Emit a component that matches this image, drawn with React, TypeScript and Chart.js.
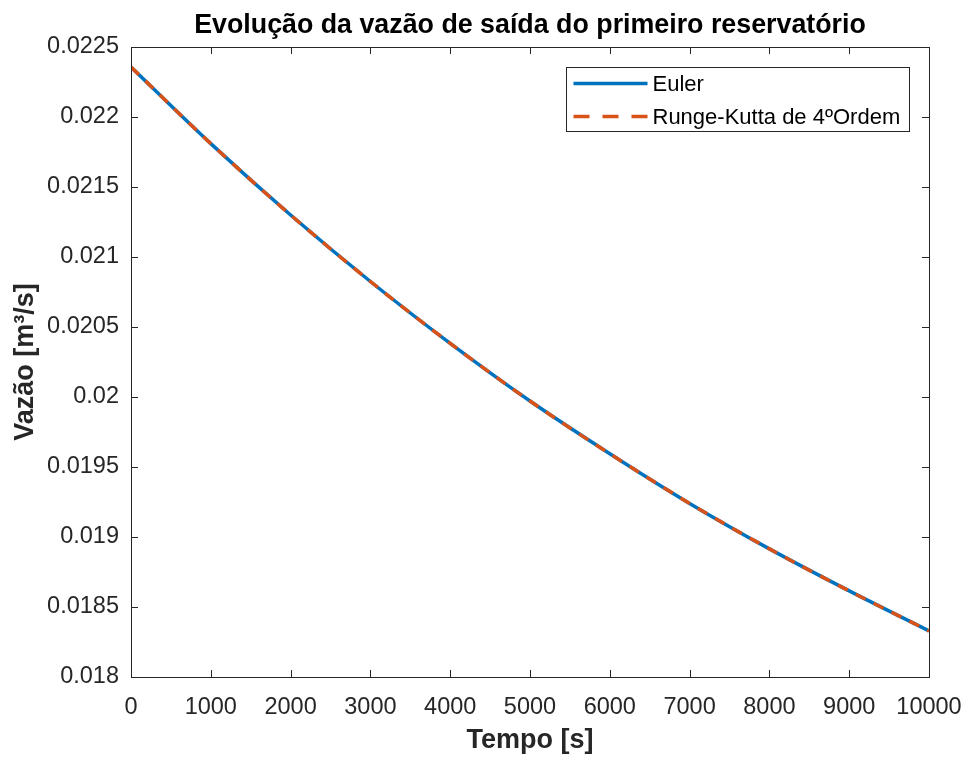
import React, { useEffect, useRef } from "react";
import { Chart, registerables } from "chart.js";

Chart.register(...registerables);

const FONT = '"Liberation Sans", Arial, Helvetica, sans-serif';
const AXIS_COLOR = "#262626";

const chartTitle = "Evolução da vazão de saída do primeiro reservatório";
const tempo = [0, 1000, 2000, 3000, 4000, 5000, 6000, 7000, 8000, 9000, 10000];
const vazaoEuler = [0.022357, 0.02181, 0.0213, 0.020825, 0.020383, 0.019971, 0.019595, 0.01924, 0.018915, 0.018615, 0.018329];
const vazaoRK4 = [0.022357, 0.02181, 0.0213, 0.020825, 0.020383, 0.019971, 0.019595, 0.01924, 0.018915, 0.018615, 0.018329];
const seriesLabels = ["Euler", "Runge-Kutta de 4ºOrdem"];
const seriesColors = ["#0072BD", "#D95319"];

const titlePlugin = {
  id: "centeredTitle",
  afterDraw(chart: any) {
    const { ctx, chartArea } = chart;
    ctx.save();
    ctx.font = `bold 26.8px ${FONT}`;
    ctx.fillStyle = "#000000";
    ctx.textAlign = "center";
    ctx.textBaseline = "alphabetic";
    ctx.fillText(chartTitle, (chartArea.left + chartArea.right) / 2, 33);
    ctx.restore();
  },
};

const boxAndTicks = {
  id: "boxAndTicks",
  afterDatasetsDraw(chart: any) {
    const { ctx, chartArea, scales } = chart;
    const { left, right, top, bottom } = chartArea;
    const x = scales.x;
    const y = scales.y;
    const tl = 7;
    ctx.save();
    ctx.strokeStyle = AXIS_COLOR;
    ctx.lineWidth = 1;
    ctx.beginPath();
    x.ticks.forEach((t: any) => {
      const px = Math.round(x.getPixelForValue(t.value)) + 0.5;
      ctx.moveTo(px, bottom);
      ctx.lineTo(px, bottom - tl);
      ctx.moveTo(px, top);
      ctx.lineTo(px, top + tl);
    });
    y.ticks.forEach((t: any) => {
      const py = Math.round(y.getPixelForValue(t.value)) + 0.5;
      ctx.moveTo(left, py);
      ctx.lineTo(left + tl, py);
      ctx.moveTo(right, py);
      ctx.lineTo(right - tl, py);
    });
    ctx.stroke();
    ctx.strokeRect(Math.round(left) + 0.5, Math.round(top) + 0.5, Math.round(right - left), Math.round(bottom - top));

    // legend
    ctx.font = `22px ${FONT}`;
    const datasets = chart.data.datasets;
    const textW = Math.max(...datasets.map((d: any) => ctx.measureText(d.label).width));
    const lineLen = 74;
    const boxW = Math.round(7 + lineLen + 5 + textW + 9);
    const boxH = 64;
    const bx = Math.round(right - 20 - boxW) + 0.5;
    const by = Math.round(top + 20) + 0.5;
    ctx.fillStyle = "#ffffff";
    ctx.fillRect(bx, by, boxW, boxH);
    ctx.strokeStyle = AXIS_COLOR;
    ctx.lineWidth = 1;
    ctx.strokeRect(bx, by, boxW, boxH);
    datasets.forEach((d: any, i: number) => {
      const ry = by + 16 + i * 33;
      ctx.save();
      ctx.strokeStyle = d.borderColor;
      ctx.lineWidth = 3.5;
      ctx.setLineDash(i === 1 ? [16, 13] : []);
      ctx.beginPath();
      ctx.moveTo(bx + 7, ry);
      ctx.lineTo(bx + 7 + lineLen, ry);
      ctx.stroke();
      ctx.restore();
      ctx.fillStyle = "#000000";
      ctx.textAlign = "left";
      ctx.textBaseline = "middle";
      ctx.fillText(d.label, bx + 7 + lineLen + 5, ry + 1);
    });
    ctx.restore();
  },
};

export default function App() {
  const ref = useRef<HTMLCanvasElement>(null);
  useEffect(() => {
    document.body.style.margin = "0";
    const canvas = ref.current!;
    const chart = new Chart(canvas, {
      type: "line",
      data: {
        datasets: [
          {
            label: seriesLabels[0],
            data: tempo.map((t, i) => ({ x: t, y: vazaoEuler[i] })),
            borderColor: seriesColors[0],
            borderWidth: 3.5,
            pointRadius: 0,
            cubicInterpolationMode: "monotone",
            fill: false,
            order: 1,
          },
          {
            label: seriesLabels[1],
            data: tempo.map((t, i) => ({ x: t, y: vazaoRK4[i] })),
            borderColor: seriesColors[1],
            borderWidth: 3.5,
            borderDash: [11, 9],
            pointRadius: 0,
            cubicInterpolationMode: "monotone",
            fill: false,
            order: 0,
          },
        ],
      },
      options: {
        responsive: false,
        animation: false,
        layout: { padding: { left: 0, right: 40, top: 47, bottom: 0 } },
        plugins: {
          legend: { display: false },
          tooltip: { enabled: false },
          title: { display: false },
        },
        scales: {
          x: {
            type: "linear",
            min: 0,
            max: 10000,
            grid: { display: false, drawTicks: false },
            border: { display: false },
            ticks: {
              stepSize: 1000,
              color: AXIS_COLOR,
              font: { family: FONT, size: 23.5 },
              padding: 16,
              maxRotation: 0,
              autoSkip: false,
              callback: (v: any) => String(v),
            },
            title: {
              display: true,
              text: "Tempo [s]",
              color: AXIS_COLOR,
              font: { family: FONT, size: 27, weight: "bold" },
              padding: { top: 0, bottom: 0.8 },
            },
            afterFit(scale: any) {
              scale.height = 81;
              scale.paddingLeft = 0;
              scale.paddingRight = 0;
            },
          },
          y: {
            type: "linear",
            min: 0.018,
            max: 0.0225,
            grid: { display: false, drawTicks: false },
            border: { display: false },
            ticks: {
              stepSize: 0.0005,
              color: AXIS_COLOR,
              font: { family: FONT, size: 23.5 },
              padding: 12,
              autoSkip: false,
              callback: (v: any) => String(Number(Number(v).toFixed(6))),
            },
            title: {
              display: true,
              text: "Vazão [m³/s]",
              color: AXIS_COLOR,
              font: { family: FONT, size: 27, weight: "bold" },
              padding: { top: 9, bottom: 0 },
            },
            afterFit(scale: any) {
              scale.width = 131;
              scale.paddingTop = 0;
              scale.paddingBottom = 0;
            },
          },
        },
      },
      plugins: [boxAndTicks, titlePlugin],
    });
    return () => chart.destroy();
  }, []);
  return (
    <div style={{ width: 969, height: 758, background: "#ffffff" }}>
      <canvas ref={ref} width={969} height={758} style={{ display: "block" }} />
    </div>
  );
}
